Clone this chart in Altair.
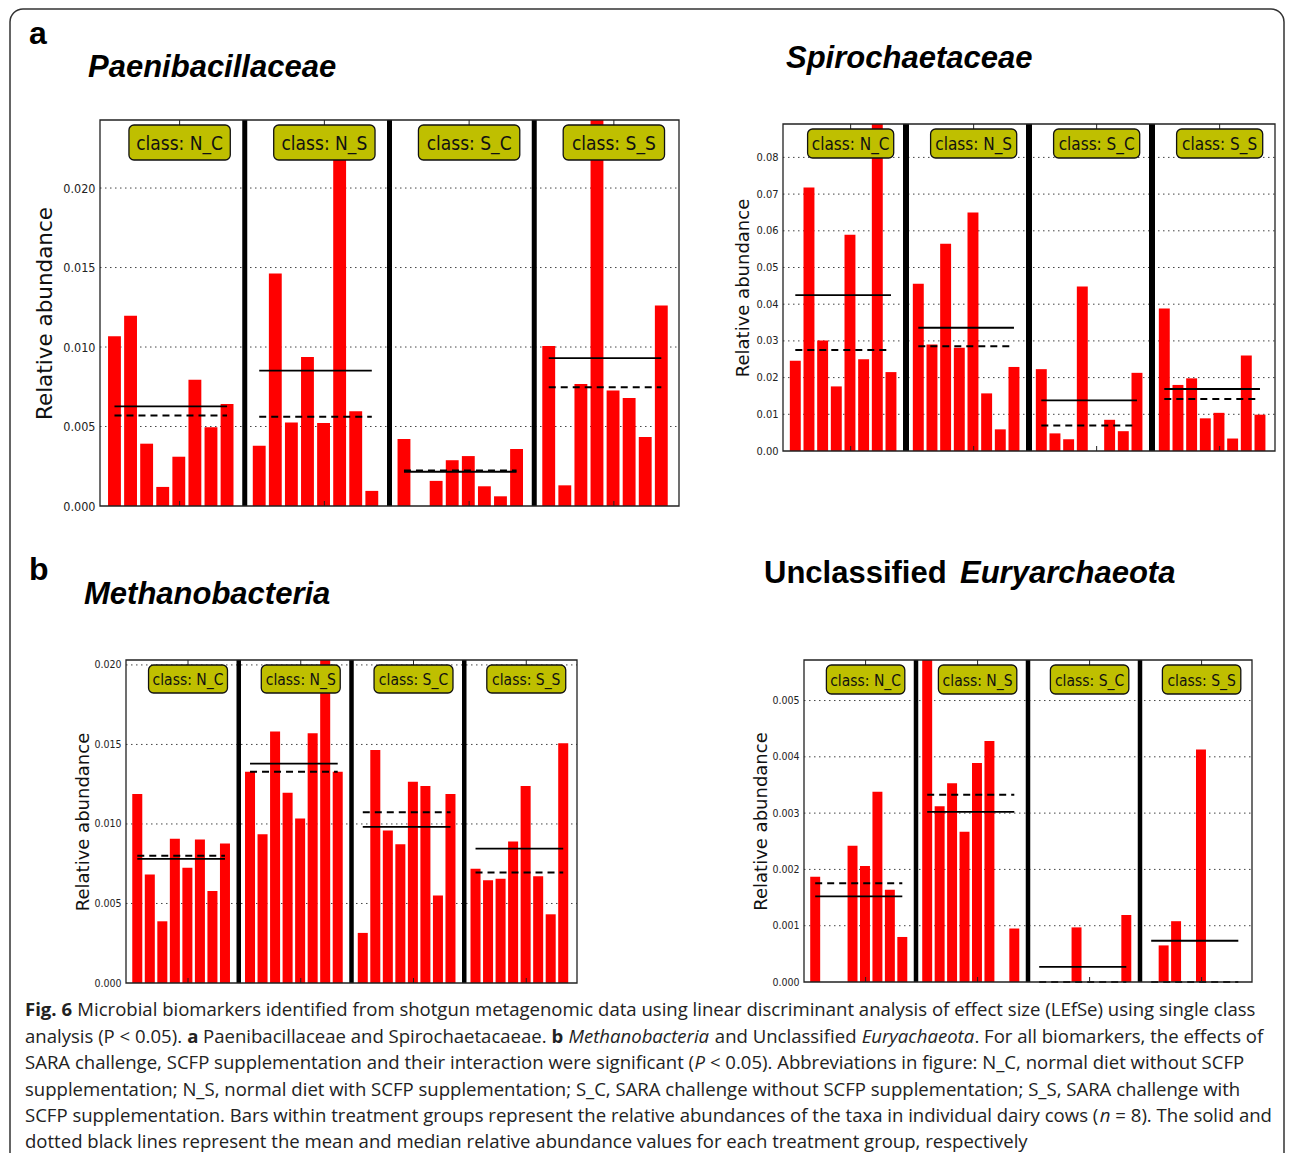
import altair as alt
import pandas as pd

GROUPS = ["N_C", "N_S", "S_C", "S_S"]

# ---- data: relative abundance per cow (8 cows per treatment group) ----
paeni_NC = [0.01067, 0.01196, 0.00392, 0.00120, 0.00310, 0.00794, 0.00495, 0.00642]
paeni_NS = [0.00379, 0.01463, 0.00526, 0.00937, 0.00522, 0.02290, 0.00596, 0.00095]
paeni_SC = [0.00421, 0.0, 0.00158, 0.00288, 0.00314, 0.00124, 0.00061, 0.00358]
paeni_SS = [0.01006, 0.00130, 0.00768, 0.02440, 0.00726, 0.00680, 0.00434, 0.01261]

spiro_NC = [0.0246, 0.0718, 0.0301, 0.0176, 0.0589, 0.0250, 0.0902, 0.0215]
spiro_NS = [0.0456, 0.0290, 0.0565, 0.0281, 0.0650, 0.0157, 0.0059, 0.0229]
spiro_SC = [0.0223, 0.0048, 0.0032, 0.0448, 0.0, 0.0085, 0.0054, 0.0213]
spiro_SS = [0.0388, 0.0180, 0.0198, 0.0089, 0.0104, 0.0034, 0.0260, 0.0099]

metha_NC = [0.01188, 0.00682, 0.00388, 0.00907, 0.00724, 0.00902, 0.00579, 0.00877]
metha_NS = [0.01328, 0.00936, 0.01582, 0.01196, 0.01035, 0.01570, 0.02057, 0.01328]
metha_SC = [0.00315, 0.01465, 0.00959, 0.00873, 0.01265, 0.01238, 0.00550, 0.01188]
metha_SS = [0.00718, 0.00646, 0.00655, 0.00890, 0.01238, 0.00672, 0.00432, 0.01507]

eury_NC = [0.00187, 0.0, 0.0, 0.00242, 0.00206, 0.00338, 0.00164, 0.00080]
eury_NS = [0.00575, 0.00312, 0.00353, 0.00267, 0.00389, 0.00428, 0.0, 0.00095]
eury_SC = [0.0, 0.0, 0.0, 0.00097, 0.0, 0.0, 0.0, 0.00119]
eury_SS = [0.0, 0.00065, 0.00108, 0.0, 0.00413, 0.0, 0.0, 0.0]

paeni_ticks = [0.0, 0.005, 0.010, 0.015, 0.020]
spiro_ticks = [0.0, 0.01, 0.02, 0.03, 0.04, 0.05, 0.06, 0.07, 0.08]
metha_ticks = [0.0, 0.005, 0.010, 0.015, 0.020]
eury_ticks = [0.0, 0.001, 0.002, 0.003, 0.004, 0.005]

# ---- layout (page pixel coordinates of each plot frame) ----
M = 8  # page margin
GW = 9.0  # group width in x units
panels = [
    dict(vals=[paeni_NC, paeni_NS, paeni_SC, paeni_SS], ticks=paeni_ticks, fmt=".3f",
         left=100, right=679, top=120, bottom=506, ymax=0.02428,
         tickfs=12.5, titlefs=21.5, tpad=6, sep=5, boxh=35, boxfs=19),
    dict(vals=[spiro_NC, spiro_NS, spiro_SC, spiro_SS], ticks=spiro_ticks, fmt=".2f",
         left=783, right=1275, top=124, bottom=451, ymax=0.0891,
         tickfs=11, titlefs=18, tpad=3, sep=6, boxh=29, boxfs=17),
    dict(vals=[metha_NC, metha_NS, metha_SC, metha_SS], ticks=metha_ticks, fmt=".3f",
         left=126, right=577, top=660, bottom=983, ymax=0.02031,
         tickfs=10.5, titlefs=18, tpad=1, sep=4.5, boxh=28, boxfs=15.5),
    dict(vals=[eury_NC, eury_NS, eury_SC, eury_SS], ticks=eury_ticks, fmt=".3f",
         left=804, right=1252, top=660, bottom=982, ymax=0.00572,
         tickfs=10.5, titlefs=18, tpad=1, sep=4.5, boxh=29, boxfs=15.5),
]


def panel_chart(p):
    rows = []
    for g, vals in enumerate(p["vals"]):
        for i, v in enumerate(vals):
            xc = g * GW + 0.9 + i
            rows.append(dict(g=GROUPS[g], xc=xc, x1=xc - 0.4, x2=xc + 0.4, value=v))
    df = pd.DataFrame(rows)
    xs = alt.Scale(domain=[0, 4 * GW], range=[p["left"] - M, p["right"] - M], nice=False, zero=False)
    ys = alt.Scale(domain=[0, p["ymax"]], range=[p["bottom"] - M, p["top"] - M],
                   nice=False, zero=False, clamp=True)

    yaxis = alt.Axis(orient="left", offset=-(p["left"] - M), values=p["ticks"], format=p["fmt"],
                     domain=False, ticks=False, grid=False,
                     labelFont="DejaVu Sans Condensed", labelFontSize=p["tickfs"],
                     labelColor="#222", labelPadding=5,
                     title="Relative abundance", titleFont="DejaVu Sans",
                     titleFontSize=p["titlefs"], titleFontWeight="normal",
                     titleColor="#111", titlePadding=p["tpad"])

    grid = alt.Chart(pd.DataFrame({"t": p["ticks"][1:]})).mark_rule(
        color="#444", strokeDash=[1.5, 3.5], strokeWidth=1
    ).encode(
        x=alt.XDatum(0, scale=xs, axis=None),
        x2=alt.X2Datum(4 * GW),
        y=alt.Y("t:Q", scale=ys, axis=yaxis),
    )

    bars = alt.Chart(df).mark_rect(color="#ff0000").encode(
        x=alt.X("x1:Q", scale=xs, axis=None),
        x2="x2:Q",
        y=alt.Y("value:Q", scale=ys, axis=yaxis),
        y2=alt.Y2Datum(0),
    )

    seps = alt.Chart(pd.DataFrame({"s": [GW, 2 * GW, 3 * GW]})).mark_rule(
        color="black", strokeWidth=p["sep"]
    ).encode(
        x=alt.X("s:Q", scale=xs, axis=None),
        y=alt.YDatum(0, scale=ys, axis=yaxis),
        y2=alt.Y2Datum(p["ymax"]),
    )

    stats = alt.Chart(df).transform_aggregate(
        mean="mean(value)", median="median(value)", xa="min(xc)", xb="max(xc)", groupby=["g"]
    )
    mean_rule = stats.mark_rule(color="black", strokeWidth=1.8).encode(
        x=alt.X("xa:Q", scale=xs, axis=None), x2="xb:Q",
        y=alt.Y("mean:Q", scale=ys, axis=yaxis),
    )
    median_rule = stats.mark_rule(color="black", strokeWidth=2, strokeDash=[7, 5]).encode(
        x=alt.X("xa:Q", scale=xs, axis=None), x2="xb:Q",
        y=alt.Y("median:Q", scale=ys, axis=yaxis),
    )

    frame = alt.Chart(pd.DataFrame({"f": [0]})).mark_rect(
        fillOpacity=0, stroke="#222", strokeWidth=1.3
    ).encode(
        x=alt.XDatum(0, scale=xs, axis=None), x2=alt.X2Datum(4 * GW),
        y=alt.YDatum(0, scale=ys, axis=yaxis), y2=alt.Y2Datum(p["ymax"]),
    )

    boxdf = pd.DataFrame({
        "label": ["class: " + g for g in GROUPS],
        "bc": [g * GW + 4.95 for g in range(4)],
    })
    boxdf["b1"] = boxdf["bc"] - 3.15
    boxdf["b2"] = boxdf["bc"] + 3.15

    # small matplotlib-style x ticks (inside the frame, top and bottom) at group centres
    xt_top = alt.Chart(boxdf).mark_rule(color="#222", strokeWidth=1).encode(
        x=alt.X("bc:Q", scale=xs, axis=None),
        y=alt.YDatum(p["ymax"], scale=ys, axis=yaxis),
        y2=alt.value(p["top"] - M + 5),
    )
    xt_bot = alt.Chart(boxdf).mark_rule(color="#222", strokeWidth=1).encode(
        x=alt.X("bc:Q", scale=xs, axis=None),
        y=alt.YDatum(0, scale=ys, axis=yaxis),
        y2=alt.value(p["bottom"] - M - 5),
    )

    btop = p["top"] - M + 5
    boxes = alt.Chart(boxdf).mark_rect(
        fill="#BFBF00", stroke="#111", strokeWidth=1.3, cornerRadius=5
    ).encode(
        x=alt.X("b1:Q", scale=xs, axis=None), x2="b2:Q",
        y=alt.value(btop), y2=alt.value(btop + p["boxh"]),
    )
    btext = alt.Chart(boxdf).mark_text(
        font="DejaVu Sans Condensed", fontSize=p["boxfs"], color="#111",
        align="center", baseline="middle"
    ).encode(
        x=alt.X("bc:Q", scale=xs, axis=None),
        y=alt.value(btop + p["boxh"] / 2 + 1),
        text="label:N",
    )
    return alt.layer(grid, bars, seps, mean_rule, median_rule, xt_top, xt_bot, frame, boxes, btext)


# ---- text annotations ----
titles = [
    ("a", 29, 44, "bold", "normal", 32),
    ("b", 29, 580, "bold", "normal", 32),
    ("Paenibacillaceae", 88, 77, "bold", "italic", 31),
    ("Spirochaetaceae", 786, 68, "bold", "italic", 31),
    ("Methanobacteria", 84, 604, "bold", "italic", 31),
    ("Unclassified", 764, 583, "bold", "normal", 31),
    ("Euryarchaeota", 960, 583, "bold", "italic", 31),
]

caption = [
    [("Fig. 6", "b"), (" Microbial biomarkers identified from shotgun metagenomic data using linear discriminant analysis of effect size (LEfSe) using single class", "n")],
    [("analysis (P < 0.05). ", "n"), ("a", "b"), (" Paenibacillaceae and Spirochaetacaeae. ", "n"),
     ("b", "b"), (" ", "n"), ("Methanobacteria", "i"), (" and Unclassified ", "n"),
     ("Euryachaeota", "i"), (". For all biomarkers, the effects of", "n")],
    [("SARA challenge, SCFP supplementation and their interaction were significant (", "n"), ("P", "i"),
     (" < 0.05). Abbreviations in figure: N_C, normal diet without SCFP", "n")],
    [("supplementation; N_S, normal diet with SCFP supplementation; S_C, SARA challenge without SCFP supplementation; S_S, SARA challenge with", "n")],
    [("SCFP supplementation. Bars within treatment groups represent the relative abundances of the taxa in individual dairy cows (", "n"),
     ("n", "i"), (" = 8). The solid and", "n")],
    [("dotted black lines represent the mean and median relative abundance values for each treatment group, respectively", "n")],
]
caption_y = [1016, 1043, 1069, 1096, 1122, 1148]
CAP_X0 = 25
CAP_X1 = 1252  # right end of the 4th caption line

# approximate Open Sans advance widths (units per 2048 em) used to place styled runs
OS_W = {" ": 532, "!": 547, "(": 607, ")": 607, ",": 502, "-": 659, ".": 545, ":": 545, ";": 545,
        "<": 1171, "=": 1171, "_": 879,
        "A": 1296, "B": 1327, "C": 1292, "D": 1493, "E": 1139, "F": 1057, "G": 1491, "H": 1511,
        "I": 571, "L": 1063, "M": 1849, "N": 1544, "P": 1233, "R": 1266, "S": 1104, "T": 1108,
        "U": 1511, "a": 1139, "b": 1255, "c": 975, "d": 1255, "e": 1149, "f": 694, "g": 1122,
        "h": 1257, "i": 518, "j": 518, "k": 1075, "l": 518, "m": 1905, "n": 1257, "o": 1237,
        "p": 1255, "q": 1255, "r": 836, "s": 977, "t": 723, "u": 1257, "v": 1026, "w": 1593,
        "x": 1073, "y": 1028, "z": 977}
STYLE_K = {"n": 1.0, "b": 1.06, "i": 0.955}


def em(s, st="n"):
    return sum(OS_W.get(c, 1171) for c in s) / 2048.0 * STYLE_K[st]


CAP_FS = (CAP_X1 - CAP_X0) / em(caption[3][0][0]) * 0.99

layers = [panel_chart(p) for p in panels]

for txt, x, y, w, st, fs in titles:
    layers.append(
        alt.Chart(pd.DataFrame({"t": [txt]})).mark_text(
            font="Liberation Sans", fontSize=fs, fontWeight=w, fontStyle=st,
            align="left", baseline="alphabetic", color="black"
        ).encode(x=alt.value(x - M), y=alt.value(y - M), text="t:N")
    )

cap_rows = []
for line, y in zip(caption, caption_y):
    x = CAP_X0
    for txt, st in line:
        lead = len(txt) - len(txt.lstrip(" "))
        if txt.strip():
            cap_rows.append(dict(t=txt.strip(), st=st, px=x + CAP_FS * em(" " * lead) - M, py=y - M))
        x += CAP_FS * em(txt, st)
cap_df = pd.DataFrame(cap_rows)
for st, w, fst in [("n", "normal", "normal"), ("b", "bold", "normal"), ("i", "normal", "italic")]:
    layers.append(
        alt.Chart(cap_df).transform_filter(alt.datum.st == st).mark_text(
            font="Open Sans", fontSize=CAP_FS, fontWeight=w, fontStyle=fst,
            align="left", baseline="alphabetic", color="#222"
        ).encode(
            x=alt.X("px:Q", scale=None, axis=None),
            y=alt.Y("py:Q", scale=None, axis=None),
            text="t:N",
        )
    )

border = alt.Chart(pd.DataFrame({"b": [0]})).mark_rect(
    fillOpacity=0, stroke="#333", strokeWidth=1.5, cornerRadius=13
).encode(x=alt.value(10 - M), x2=alt.value(1276), y=alt.value(9 - M), y2=alt.value(1200))
layers.append(border)

chart = alt.layer(*layers).resolve_scale(x="independent", y="independent").properties(
    width=1277, height=1145, autosize="none", padding=0
).configure_view(stroke=None)

chart.save("out.html", embed_options={"renderer": "svg", "actions": False})
